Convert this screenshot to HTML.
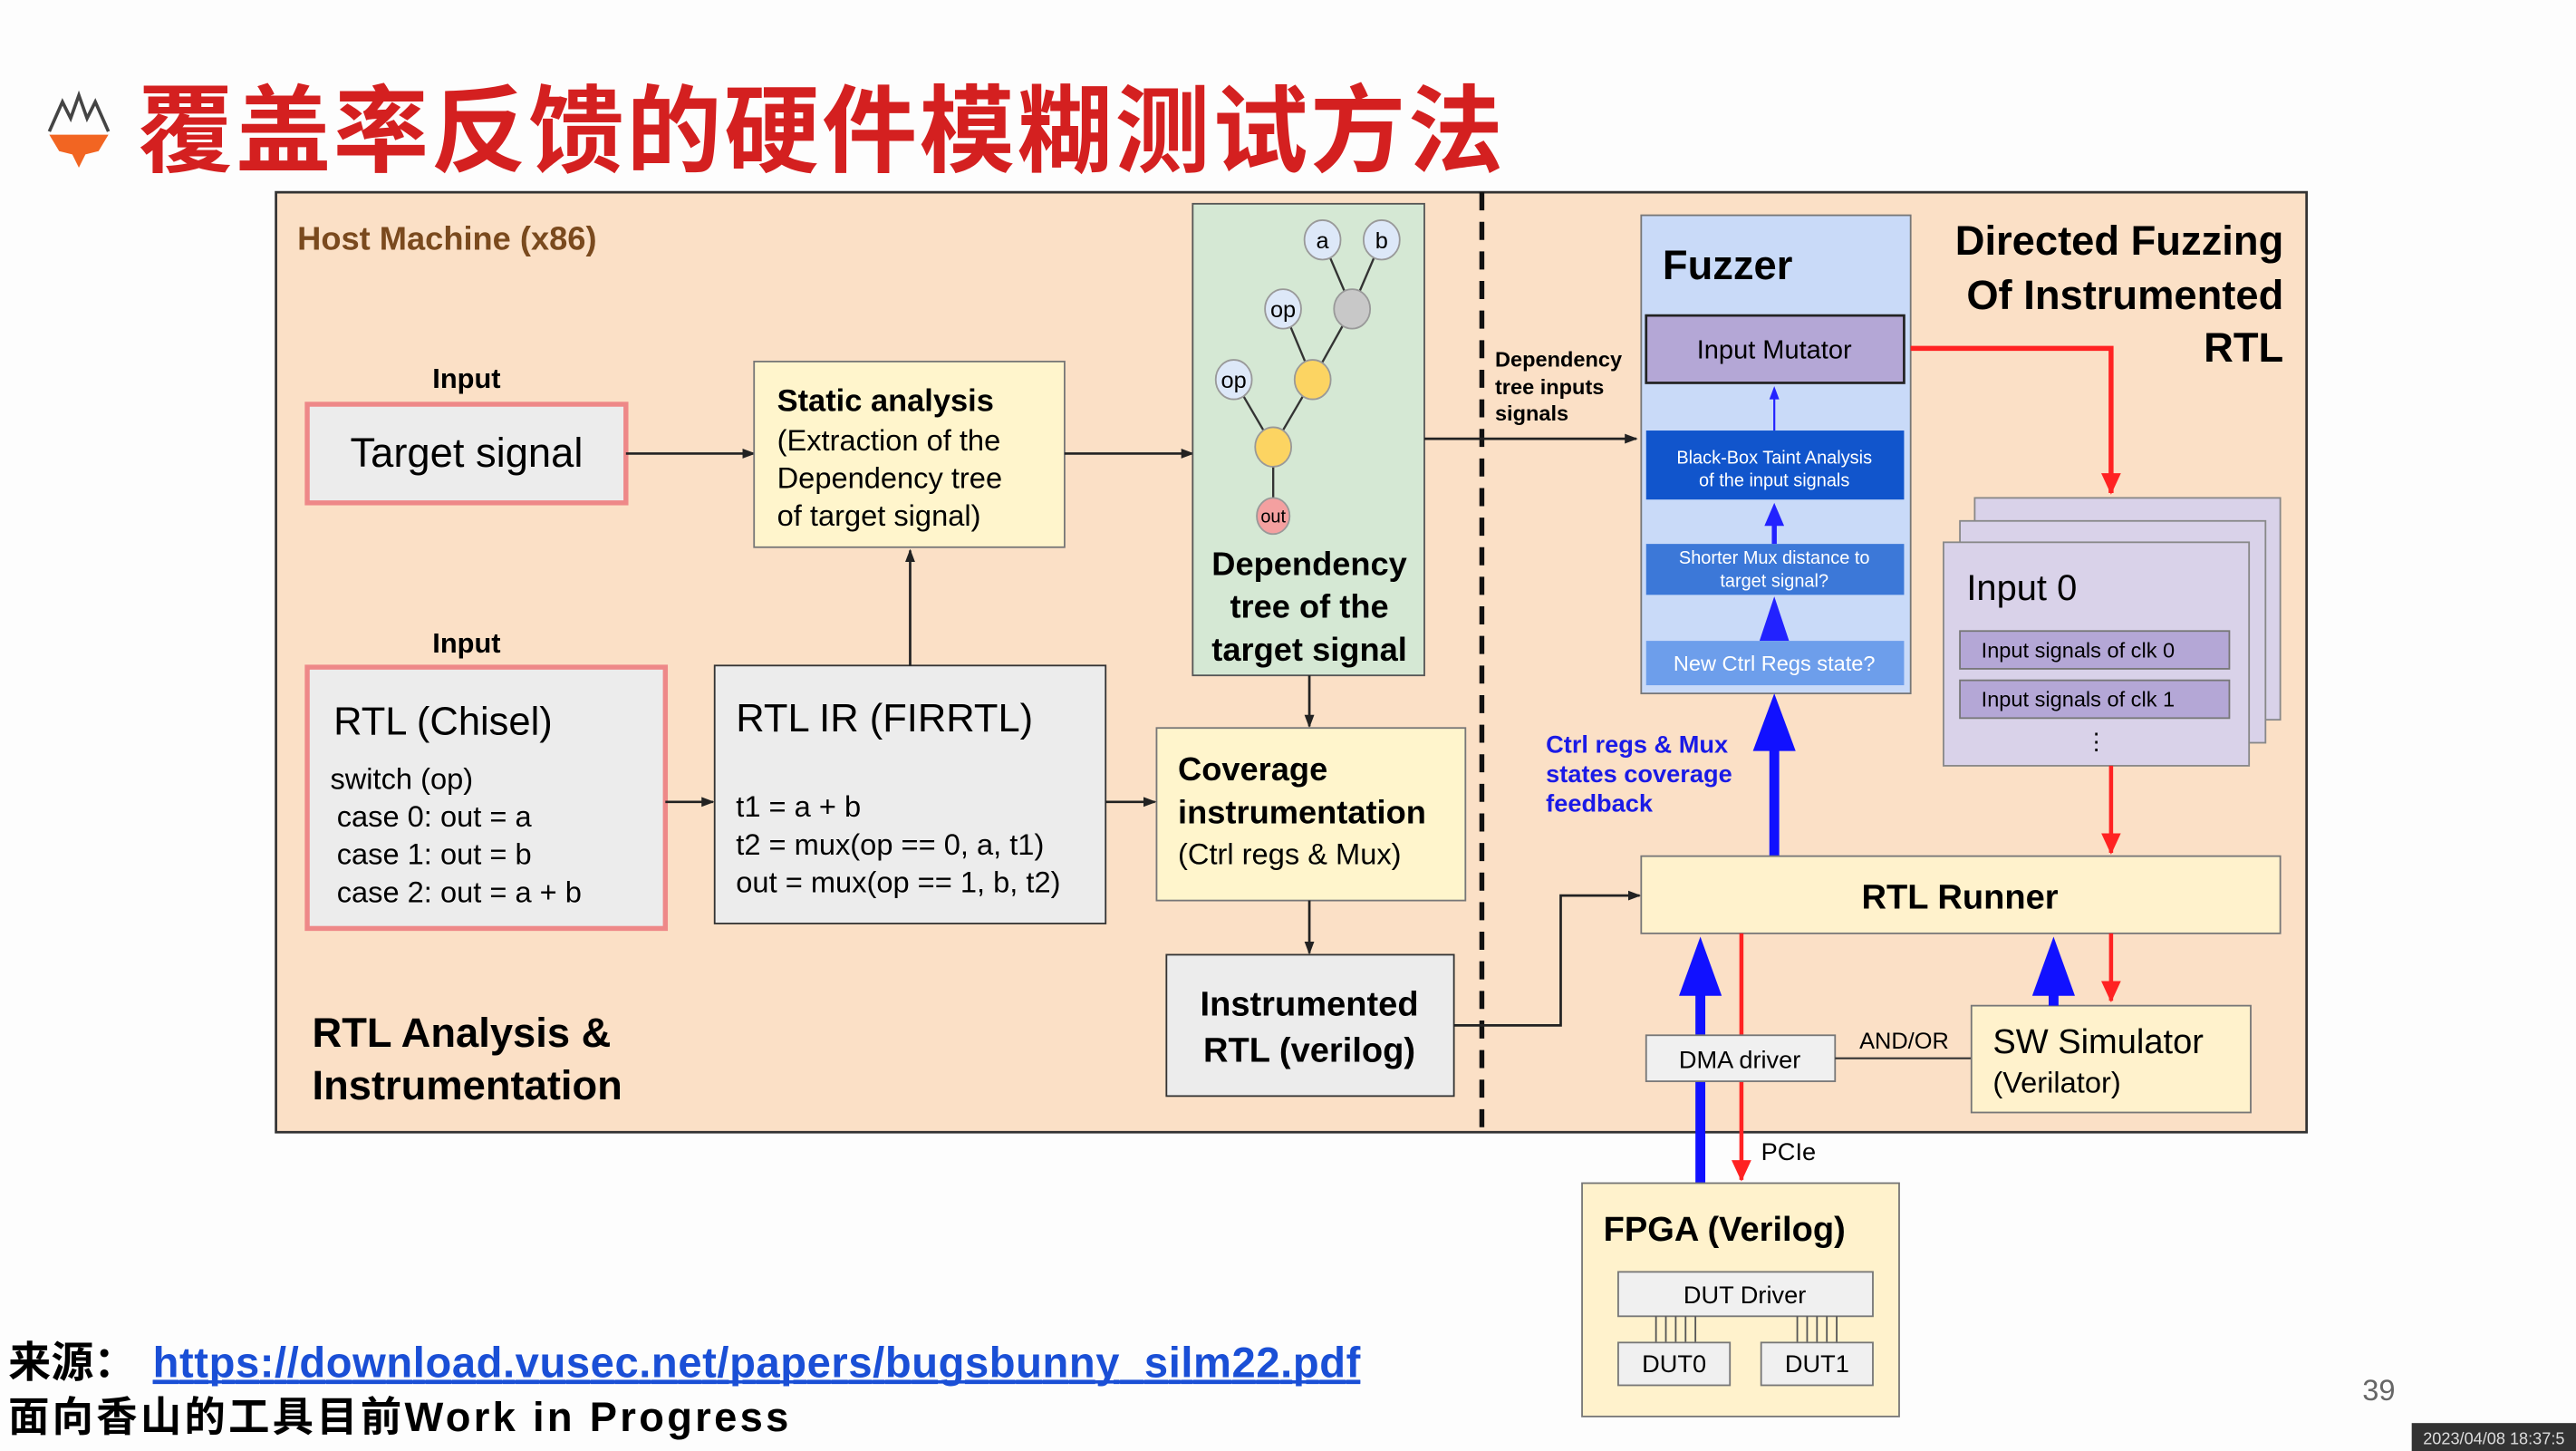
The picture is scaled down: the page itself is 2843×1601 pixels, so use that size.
<!DOCTYPE html>
<html><head><meta charset="utf-8"><style>
html,body{margin:0;padding:0;background:#fff;width:2843px;height:1601px;overflow:hidden}
svg{display:block}
text{font-family:"Liberation Sans","Noto Sans CJK SC",sans-serif}
</style></head><body>
<svg width="2843" height="1601" viewBox="0 0 1568 883" xmlns="http://www.w3.org/2000/svg">
<defs>
<marker id="ak" markerWidth="8" markerHeight="8" refX="7" refY="4" orient="auto" markerUnits="userSpaceOnUse"><path d="M0,1 L8,4 L0,7 z" fill="#222"/></marker>
<marker id="ar" markerWidth="14" markerHeight="14" refX="12" refY="7" orient="auto" markerUnits="userSpaceOnUse"><path d="M0,1 L13,7 L0,13 z" fill="#f22"/></marker>
</defs>
<rect width="1568" height="883" fill="#fdfdfd"/>
<!-- title -->
<path d="M30,80 L38,62 L43,72 L48,58 L53,72 L58,62 L66,80" fill="none" stroke="#444" stroke-width="2"/>
<path d="M30,82 L66,82 L60,92 L52,94 L48,102 L44,94 L36,92 z" fill="#f26522"/>
<text x="84" y="100" font-size="58" font-weight="bold" fill="#d42020" font-family="'Noto Sans CJK SC',sans-serif" textLength="831">覆盖率反馈的硬件模糊测试方法</text>
<!-- main panel -->
<rect x="168" y="117" width="1236" height="572" fill="#fbe0c6" stroke="#333" stroke-width="1.5"/>
<line x1="902" y1="117" x2="902" y2="689" stroke="#111" stroke-width="3" stroke-dasharray="11,7"/>
<text x="181" y="152" font-size="20" font-weight="bold" fill="#7a4a1e">Host Machine (x86)</text>
<text x="284" y="236" font-size="17" font-weight="bold" text-anchor="middle">Input</text>
<rect x="187" y="246" width="194" height="60" fill="#ececec" stroke="#e88" stroke-width="3"/>
<text x="284" y="284" font-size="25" text-anchor="middle">Target signal</text>
<line x1="381" y1="276" x2="459" y2="276" stroke="#222" stroke-width="1.5" marker-end="url(#ak)"/>
<rect x="459" y="220" width="189" height="113" fill="#fff5cc" stroke="#777"/>
<text x="473" y="250" font-size="19" font-weight="bold">Static analysis</text>
<text x="473" y="274" font-size="18">(Extraction of the</text>
<text x="473" y="297" font-size="18">Dependency tree</text>
<text x="473" y="320" font-size="18">of target signal)</text>
<line x1="648" y1="276" x2="726" y2="276" stroke="#222" stroke-width="1.5" marker-end="url(#ak)"/>
<!-- dep tree -->
<rect x="726" y="124" width="141" height="287" fill="#d5e8d4" stroke="#555"/>
<g stroke="#333" stroke-width="1.3">
<line x1="805" y1="146" x2="823" y2="188"/><line x1="841" y1="146" x2="823" y2="188"/>
<line x1="781" y1="188" x2="799" y2="231"/><line x1="823" y1="188" x2="799" y2="231"/>
<line x1="751" y1="231" x2="775" y2="272"/><line x1="799" y1="231" x2="775" y2="272"/>
<line x1="775" y1="272" x2="775" y2="314"/>
</g>
<g stroke="#999" stroke-width="1">
<ellipse cx="805" cy="146" rx="11" ry="12" fill="#dde8f8"/><ellipse cx="841" cy="146" rx="11" ry="12" fill="#dde8f8"/>
<ellipse cx="781" cy="188" rx="11" ry="12" fill="#dde8f8"/><ellipse cx="823" cy="188" rx="11" ry="12" fill="#c8c8c8"/>
<ellipse cx="751" cy="231" rx="11" ry="12" fill="#dde8f8"/><ellipse cx="799" cy="231" rx="11" ry="12" fill="#fcd462"/>
<ellipse cx="775" cy="272" rx="11" ry="12" fill="#fcd462"/><ellipse cx="775" cy="314" rx="10" ry="11" fill="#f4a0a0"/>
</g>
<g font-size="14" text-anchor="middle"><text x="805" y="151">a</text><text x="841" y="151">b</text><text x="781" y="193">op</text><text x="751" y="236">op</text><text x="775" y="318" font-size="11">out</text></g>
<g font-size="20" font-weight="bold" text-anchor="middle"><text x="797" y="350">Dependency</text><text x="797" y="376">tree of the</text><text x="797" y="402">target signal</text></g>
<line x1="797" y1="411" x2="797" y2="442" stroke="#222" stroke-width="1.5" marker-end="url(#ak)"/>
<rect x="704" y="443" width="188" height="105" fill="#fff5cc" stroke="#777"/>
<text x="717" y="475" font-size="20" font-weight="bold">Coverage</text>
<text x="717" y="501" font-size="20" font-weight="bold">instrumentation</text>
<text x="717" y="526" font-size="18">(Ctrl regs &amp; Mux)</text>
<line x1="797" y1="548" x2="797" y2="580" stroke="#222" stroke-width="1.5" marker-end="url(#ak)"/>
<rect x="710" y="581" width="175" height="86" fill="#ececec" stroke="#333"/>
<text x="797" y="618" font-size="21" font-weight="bold" text-anchor="middle">Instrumented</text>
<text x="797" y="646" font-size="21" font-weight="bold" text-anchor="middle">RTL (verilog)</text>
<polyline points="885,624 950,624 950,545 998,545" fill="none" stroke="#222" stroke-width="1.5" marker-end="url(#ak)"/>
<text x="284" y="397" font-size="17" font-weight="bold" text-anchor="middle">Input</text>
<rect x="187" y="406" width="218" height="159" fill="#ececec" stroke="#e88" stroke-width="3"/>
<text x="203" y="447" font-size="24">RTL (Chisel)</text>
<g font-size="18"><text x="201" y="480">switch (op)</text><text x="205" y="503">case 0: out = a</text><text x="205" y="526">case 1: out = b</text><text x="205" y="549">case 2: out = a + b</text></g>
<line x1="405" y1="488" x2="434" y2="488" stroke="#222" stroke-width="1.5" marker-end="url(#ak)"/>
<rect x="435" y="405" width="238" height="157" fill="#ececec" stroke="#333"/>
<text x="448" y="445" font-size="24">RTL IR (FIRRTL)</text>
<g font-size="18"><text x="448" y="497">t1 = a + b</text><text x="448" y="520">t2 = mux(op == 0, a, t1)</text><text x="448" y="543">out = mux(op == 1, b, t2)</text></g>
<line x1="554" y1="405" x2="554" y2="335" stroke="#222" stroke-width="1.5" marker-end="url(#ak)"/>
<line x1="673" y1="488" x2="703" y2="488" stroke="#222" stroke-width="1.5" marker-end="url(#ak)"/>
<text x="190" y="637" font-size="25" font-weight="bold">RTL Analysis &amp;</text>
<text x="190" y="669" font-size="25" font-weight="bold">Instrumentation</text>
<!-- right -->
<line x1="867" y1="267" x2="996" y2="267" stroke="#222" stroke-width="1.5" marker-end="url(#ak)"/>
<g font-size="13" font-weight="bold"><text x="910" y="223">Dependency</text><text x="910" y="240">tree inputs</text><text x="910" y="256">signals</text></g>
<rect x="999" y="131" width="164" height="291" fill="#c9daf8" stroke="#777"/>
<text x="1012" y="170" font-size="25" font-weight="bold">Fuzzer</text>
<rect x="1002" y="192" width="157" height="41" fill="#b4a7d6" stroke="#222" stroke-width="1.5"/>
<text x="1080" y="218" font-size="16" text-anchor="middle">Input Mutator</text>
<line x1="1080" y1="262" x2="1080" y2="242" stroke="#22f" stroke-width="1.2"/><path d="M1077,243 L1080,235 L1083,243z" fill="#22f"/>
<rect x="1002" y="262" width="157" height="42" fill="#1155cc"/>
<text x="1080" y="282" font-size="11" fill="#fff" text-anchor="middle">Black-Box Taint Analysis</text>
<text x="1080" y="296" font-size="11" fill="#fff" text-anchor="middle">of the input signals</text>
<line x1="1080" y1="331" x2="1080" y2="318" stroke="#22f" stroke-width="3"/><path d="M1074,320 L1080,306 L1086,320z" fill="#22f"/>
<rect x="1002" y="331" width="157" height="31" fill="#3c78d8"/>
<text x="1080" y="343" font-size="11" fill="#fff" text-anchor="middle">Shorter Mux distance to</text>
<text x="1080" y="357" font-size="11" fill="#fff" text-anchor="middle">target signal?</text>
<path d="M1071,390 L1080,363 L1089,390z" fill="#22f"/>
<rect x="1002" y="390" width="157" height="27" fill="#6d9eeb"/>
<text x="1080" y="408" font-size="13" fill="#fff" text-anchor="middle">New Ctrl Regs state?</text>
<line x1="1080" y1="521" x2="1080" y2="450" stroke="#11f" stroke-width="6"/><path d="M1067,457 L1080,422 L1093,457z" fill="#11f"/>
<g font-size="15" font-weight="bold" fill="#1a1ae6"><text x="941" y="458">Ctrl regs &amp; Mux</text><text x="941" y="476">states coverage</text><text x="941" y="494">feedback</text></g>
<g font-size="25" font-weight="bold" text-anchor="end"><text x="1390" y="155">Directed Fuzzing</text><text x="1390" y="188">Of Instrumented</text><text x="1390" y="220">RTL</text></g>
<polyline points="1163,212 1285,212 1285,300" fill="none" stroke="#f22" stroke-width="3" marker-end="url(#ar)"/>
<rect x="1202" y="303" width="186" height="135" fill="#d9d2e9" stroke="#888"/>
<rect x="1193" y="317" width="186" height="135" fill="#d9d2e9" stroke="#888"/>
<rect x="1183" y="330" width="186" height="136" fill="#d9d2e9" stroke="#888"/>
<text x="1197" y="365" font-size="22">Input 0</text>
<rect x="1193" y="384" width="164" height="23" fill="#b4a7d6" stroke="#777"/>
<text x="1206" y="400" font-size="13">Input signals of clk 0</text>
<rect x="1193" y="414" width="164" height="23" fill="#b4a7d6" stroke="#777"/>
<text x="1206" y="430" font-size="13">Input signals of clk 1</text>
<text x="1276" y="456" font-size="14" text-anchor="middle">⋮</text>
<line x1="1285" y1="466" x2="1285" y2="519" stroke="#f22" stroke-width="2.5" marker-end="url(#ar)"/>
<rect x="999" y="521" width="389" height="47" fill="#fff2cc" stroke="#777"/>
<text x="1193" y="553" font-size="21" font-weight="bold" text-anchor="middle">RTL Runner</text>
<line x1="1035" y1="720" x2="1035" y2="600" stroke="#11f" stroke-width="6"/><path d="M1022,606 L1035,570 L1048,606z" fill="#11f"/>
<line x1="1060" y1="568" x2="1060" y2="718" stroke="#f22" stroke-width="2.5" marker-end="url(#ar)"/>
<rect x="1002" y="630" width="115" height="28" fill="#f0f0f0" stroke="#777"/>
<text x="1059" y="650" font-size="15" text-anchor="middle">DMA driver</text>
<line x1="1117" y1="644" x2="1200" y2="644" stroke="#333" stroke-width="1.2"/>
<text x="1159" y="638" font-size="14" text-anchor="middle">AND/OR</text>
<rect x="1200" y="612" width="170" height="65" fill="#fff2cc" stroke="#777"/>
<text x="1213" y="641" font-size="21">SW Simulator</text>
<text x="1213" y="665" font-size="18">(Verilator)</text>
<line x1="1250" y1="612" x2="1250" y2="600" stroke="#11f" stroke-width="6"/><path d="M1237,606 L1250,570 L1263,606z" fill="#11f"/>
<line x1="1285" y1="568" x2="1285" y2="609" stroke="#f22" stroke-width="2.5" marker-end="url(#ar)"/>
<text x="1072" y="706" font-size="15">PCIe</text>
<rect x="963" y="720" width="193" height="142" fill="#fff2cc" stroke="#777"/>
<text x="976" y="755" font-size="21" font-weight="bold">FPGA (Verilog)</text>
<rect x="985" y="774" width="155" height="27" fill="#f0f0f0" stroke="#777"/>
<text x="1062" y="793" font-size="15" text-anchor="middle">DUT Driver</text>
<g stroke="#555" stroke-width="1"><line x1="1008" y1="801" x2="1008" y2="817"/><line x1="1014" y1="801" x2="1014" y2="817"/><line x1="1020" y1="801" x2="1020" y2="817"/><line x1="1026" y1="801" x2="1026" y2="817"/><line x1="1032" y1="801" x2="1032" y2="817"/>
<line x1="1094" y1="801" x2="1094" y2="817"/><line x1="1100" y1="801" x2="1100" y2="817"/><line x1="1106" y1="801" x2="1106" y2="817"/><line x1="1112" y1="801" x2="1112" y2="817"/><line x1="1118" y1="801" x2="1118" y2="817"/></g>
<rect x="985" y="817" width="68" height="26" fill="#f0f0f0" stroke="#777"/>
<text x="1019" y="835" font-size="15" text-anchor="middle">DUT0</text>
<rect x="1072" y="817" width="68" height="26" fill="#f0f0f0" stroke="#777"/>
<text x="1106" y="835" font-size="15" text-anchor="middle">DUT1</text>
<!-- footer -->
<text x="5" y="838" font-size="26" font-weight="bold">来源：</text>
<text x="93" y="838" font-size="26" font-weight="bold" fill="#1a4fd6" text-decoration="underline" textLength="735">https://download.vusec.net/papers/bugsbunny_silm22.pdf</text>
<line x1="93" y1="841" x2="828" y2="841" stroke="#1a4fd6" stroke-width="2"/>
<text x="5" y="871" font-size="25" font-weight="bold" textLength="475">面向香山的工具目前Work in Progress</text>
<text x="1448" y="852" font-size="18" fill="#666" text-anchor="middle">39</text>
<rect x="1468" y="866" width="100" height="17" fill="#333"/>
<text x="1518" y="879" font-size="10" fill="#ddd" text-anchor="middle">2023/04/08 18:37:5</text>
</svg>
</body></html>
